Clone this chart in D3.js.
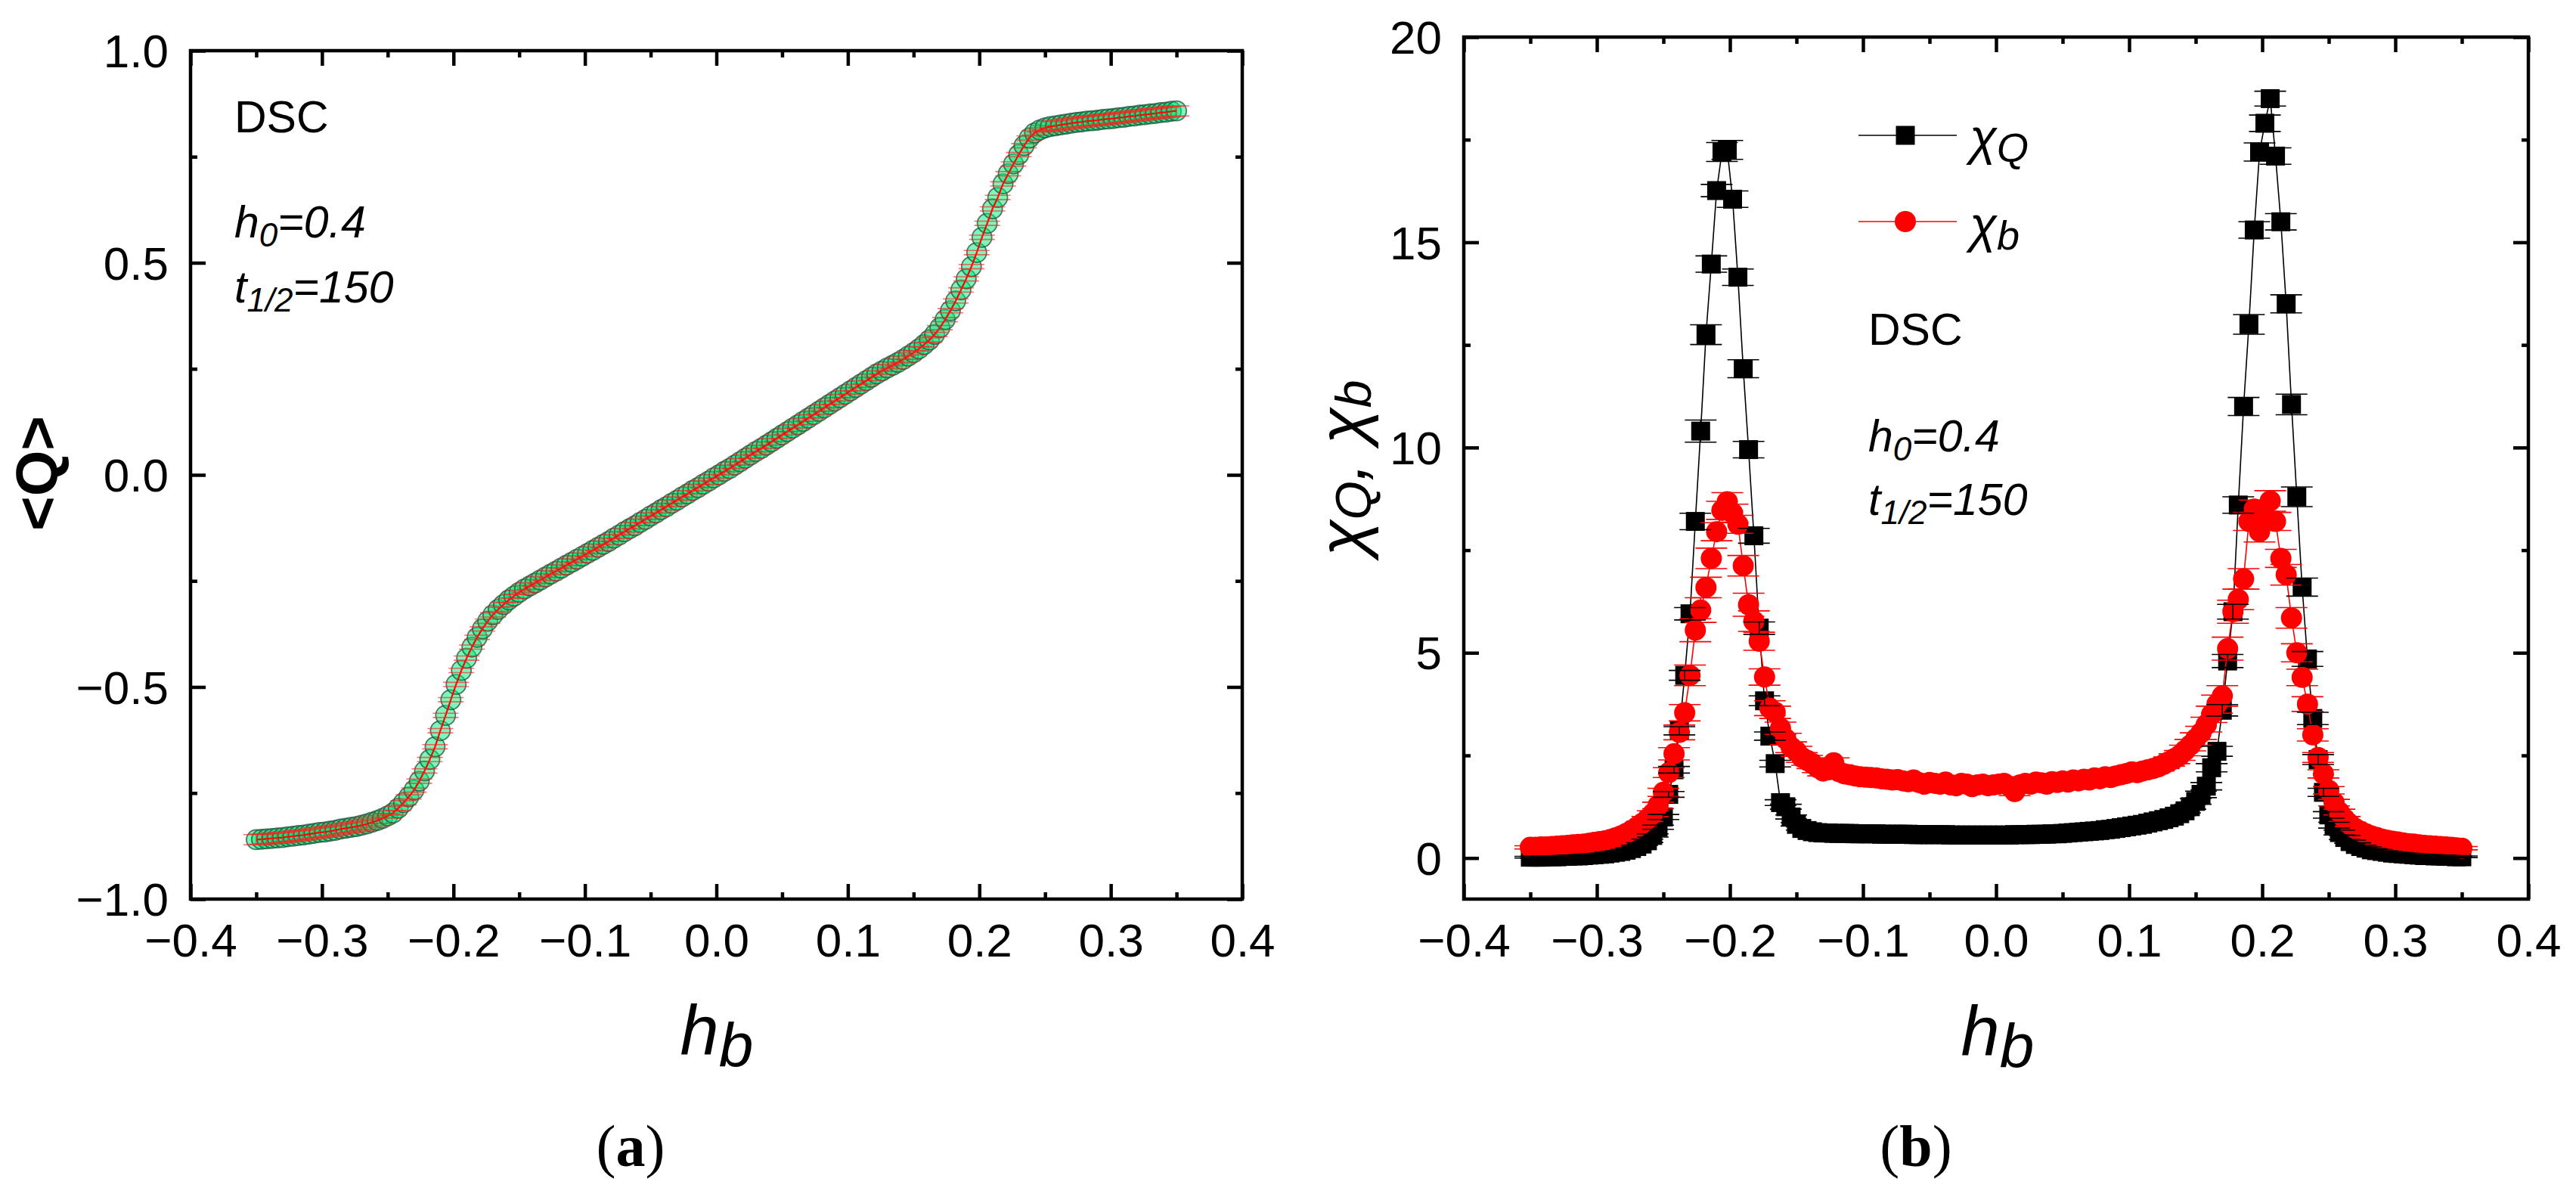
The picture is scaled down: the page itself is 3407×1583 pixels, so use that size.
<!DOCTYPE html>
<html><head><meta charset="utf-8">
<script src="https://cdn.jsdelivr.net/npm/d3@7"></script>
<style>body{margin:0;background:#fff}svg{display:block}</style>
</head><body><svg id="chart" width="3407" height="1583"></svg>
<script>
const hb = [
-0.350,-0.346,-0.342,-0.338,-0.334,-0.330,-0.326,-0.322,-0.318,-0.314,
-0.310,-0.306,-0.302,-0.298,-0.294,-0.290,-0.286,-0.282,-0.278,-0.274,
-0.270,-0.266,-0.262,-0.258,-0.254,-0.250,-0.246,-0.242,-0.238,-0.234,
-0.230,-0.226,-0.222,-0.218,-0.214,-0.210,-0.206,-0.202,-0.198,-0.194,
-0.190,-0.186,-0.182,-0.178,-0.174,-0.170,-0.166,-0.162,-0.158,-0.154,
-0.150,-0.146,-0.142,-0.138,-0.134,-0.130,-0.126,-0.122,-0.118,-0.114,
-0.110,-0.106,-0.102,-0.098,-0.094,-0.090,-0.086,-0.082,-0.078,-0.074,
-0.070,-0.066,-0.062,-0.058,-0.054,-0.050,-0.046,-0.042,-0.038,-0.034,
-0.030,-0.026,-0.022,-0.018,-0.014,-0.010,-0.006,-0.002,0.002,0.006,
0.010,0.014,0.018,0.022,0.026,0.030,0.034,0.038,0.042,0.046,
0.050,0.054,0.058,0.062,0.066,0.070,0.074,0.078,0.082,0.086,
0.090,0.094,0.098,0.102,0.106,0.110,0.114,0.118,0.122,0.126,
0.130,0.134,0.138,0.142,0.146,0.150,0.154,0.158,0.162,0.166,
0.170,0.174,0.178,0.182,0.186,0.190,0.194,0.198,0.202,0.206,
0.210,0.214,0.218,0.222,0.226,0.230,0.234,0.238,0.242,0.246,
0.250,0.254,0.258,0.262,0.266,0.270,0.274,0.278,0.282,0.286,
0.290,0.294,0.298,0.302,0.306,0.310,0.314,0.318,0.322,0.326,
0.330,0.334,0.338,0.342,0.346,0.350];

// panel (a): <Q>
const qMean = [
-0.860,-0.859,-0.858,-0.857,-0.856,-0.855,-0.853,-0.852,-0.850,-0.849,
-0.847,-0.845,-0.843,-0.842,-0.840,-0.838,-0.835,-0.833,-0.831,-0.829,
-0.826,-0.823,-0.819,-0.815,-0.810,-0.804,-0.797,-0.786,-0.773,-0.759,
-0.743,-0.722,-0.698,-0.671,-0.641,-0.603,-0.567,-0.530,-0.494,-0.461,
-0.432,-0.406,-0.383,-0.363,-0.345,-0.330,-0.317,-0.306,-0.295,-0.286,
-0.277,-0.269,-0.262,-0.255,-0.248,-0.241,-0.234,-0.227,-0.220,-0.213,
-0.206,-0.199,-0.192,-0.185,-0.178,-0.171,-0.164,-0.157,-0.149,-0.142,
-0.134,-0.127,-0.120,-0.112,-0.105,-0.097,-0.090,-0.082,-0.075,-0.067,
-0.060,-0.052,-0.045,-0.037,-0.030,-0.022,-0.015,-0.007,0.000,0.008,
0.015,0.023,0.031,0.039,0.047,0.055,0.062,0.070,0.078,0.086,
0.094,0.102,0.110,0.118,0.126,0.134,0.142,0.150,0.158,0.166,
0.174,0.182,0.190,0.198,0.206,0.214,0.222,0.230,0.238,0.245,
0.252,0.258,0.265,0.272,0.280,0.288,0.297,0.307,0.318,0.331,
0.347,0.366,0.387,0.410,0.436,0.462,0.491,0.524,0.560,0.593,
0.627,0.654,0.686,0.710,0.733,0.755,0.776,0.794,0.806,0.813,
0.818,0.821,0.823,0.825,0.827,0.829,0.831,0.832,0.834,0.835,
0.836,0.838,0.839,0.840,0.842,0.843,0.845,0.846,0.848,0.849,
0.851,0.852,0.854,0.855,0.857,0.858];

const qErr = [
0.012,0.012,0.012,0.012,0.012,0.012,0.012,0.012,0.012,0.012,
0.012,0.012,0.012,0.012,0.012,0.012,0.012,0.012,0.012,0.012,
0.012,0.012,0.012,0.012,0.012,0.005,0.005,0.005,0.005,0.005,
0.005,0.005,0.005,0.005,0.005,0.005,0.005,0.005,0.005,0.005,
0.005,0.005,0.005,0.005,0.005,0.005,0.005,0.005,0.005,0.005,
0.005,0.008,0.008,0.008,0.008,0.008,0.008,0.008,0.008,0.008,
0.008,0.008,0.008,0.008,0.008,0.008,0.008,0.008,0.008,0.008,
0.008,0.008,0.008,0.008,0.008,0.008,0.008,0.008,0.008,0.008,
0.008,0.008,0.008,0.008,0.008,0.008,0.008,0.008,0.008,0.008,
0.008,0.008,0.008,0.008,0.008,0.008,0.008,0.008,0.008,0.008,
0.008,0.008,0.008,0.008,0.008,0.008,0.008,0.008,0.008,0.008,
0.008,0.008,0.008,0.008,0.008,0.008,0.008,0.008,0.008,0.008,
0.008,0.008,0.008,0.008,0.008,0.005,0.005,0.005,0.005,0.005,
0.005,0.005,0.005,0.005,0.005,0.005,0.005,0.005,0.005,0.005,
0.005,0.005,0.005,0.005,0.005,0.005,0.005,0.005,0.005,0.005,
0.005,0.012,0.012,0.012,0.012,0.012,0.012,0.012,0.012,0.012,
0.012,0.012,0.012,0.012,0.012,0.012,0.012,0.012,0.012,0.012,
0.012,0.012,0.012,0.012,0.012,0.012];

// panel (b): chi_Q and chi_b
const chiQ = [
0.02,0.02,0.02,0.03,0.03,0.03,0.04,0.04,0.05,0.05,
0.06,0.07,0.08,0.09,0.10,0.12,0.14,0.16,0.19,0.23,
0.28,0.34,0.42,0.55,0.75,1.00,1.55,2.15,3.10,4.45,
5.95,8.20,10.40,12.75,14.47,16.26,17.20,17.25,16.05,14.15,
11.92,9.95,7.85,5.60,3.83,2.97,2.30,1.35,1.25,1.00,
0.82,0.72,0.67,0.64,0.62,0.61,0.61,0.60,0.60,0.60,
0.60,0.59,0.59,0.59,0.59,0.59,0.58,0.58,0.58,0.58,
0.58,0.58,0.57,0.57,0.57,0.57,0.57,0.57,0.57,0.56,
0.56,0.56,0.56,0.56,0.56,0.56,0.56,0.56,0.56,0.56,
0.56,0.57,0.57,0.57,0.57,0.58,0.58,0.58,0.59,0.59,
0.60,0.61,0.62,0.63,0.64,0.65,0.66,0.67,0.69,0.70,
0.72,0.74,0.76,0.78,0.80,0.82,0.85,0.88,0.91,0.94,
0.98,1.02,1.08,1.15,1.25,1.38,1.55,1.75,2.20,2.60,
3.60,4.80,6.00,8.60,11.00,13.00,15.30,17.20,17.90,18.50,
17.10,15.50,13.50,11.05,8.80,6.60,4.85,3.40,2.40,1.60,
1.05,0.80,0.62,0.50,0.40,0.33,0.28,0.24,0.20,0.18,
0.16,0.14,0.12,0.11,0.10,0.09,0.08,0.07,0.06,0.06,
0.05,0.05,0.04,0.04,0.03,0.03];

const chiQErr = [
0.02,0.02,0.02,0.02,0.02,0.02,0.02,0.02,0.02,0.02,
0.02,0.02,0.02,0.02,0.02,0.02,0.02,0.02,0.02,0.02,
0.03,0.03,0.04,0.04,0.05,0.06,0.07,0.08,0.10,0.12,
0.15,0.20,0.27,0.24,0.20,0.15,0.23,0.23,0.20,0.20,
0.22,0.20,0.18,0.15,0.12,0.10,0.08,0.07,0.06,0.05,
0.04,0.04,0.04,0.04,0.04,0.04,0.04,0.04,0.04,0.04,
0.03,0.03,0.03,0.03,0.03,0.03,0.03,0.03,0.03,0.03,
0.03,0.03,0.03,0.03,0.03,0.03,0.03,0.03,0.03,0.03,
0.03,0.03,0.03,0.03,0.03,0.03,0.03,0.03,0.03,0.03,
0.03,0.03,0.03,0.03,0.03,0.03,0.03,0.03,0.03,0.03,
0.03,0.03,0.03,0.03,0.03,0.03,0.03,0.03,0.03,0.03,
0.03,0.03,0.03,0.03,0.03,0.03,0.03,0.03,0.03,0.03,
0.04,0.04,0.05,0.05,0.06,0.07,0.08,0.09,0.10,0.12,
0.14,0.16,0.18,0.20,0.22,0.24,0.20,0.22,0.20,0.18,
0.20,0.20,0.22,0.25,0.24,0.22,0.18,0.15,0.12,0.10,
0.08,0.07,0.06,0.05,0.04,0.04,0.03,0.03,0.03,0.03,
0.02,0.02,0.02,0.02,0.02,0.02,0.02,0.02,0.02,0.02,
0.02,0.02,0.02,0.02,0.02,0.02];

const chiB = [
0.26,0.26,0.27,0.27,0.28,0.29,0.30,0.31,0.32,0.33,
0.34,0.36,0.38,0.40,0.42,0.45,0.49,0.54,0.60,0.67,
0.75,0.84,0.95,1.08,1.28,1.60,2.08,2.54,3.06,3.54,
4.45,5.55,6.04,6.59,7.30,7.95,8.47,8.68,8.40,8.13,
7.12,6.17,5.77,5.28,4.41,3.65,3.55,3.16,2.90,2.70,
2.60,2.45,2.38,2.30,2.20,2.12,2.15,2.32,2.10,2.05,
2.03,2.00,1.98,1.97,1.96,1.95,1.93,1.92,1.90,1.91,
1.88,1.86,1.90,1.84,1.80,1.84,1.82,1.80,1.85,1.78,
1.76,1.82,1.80,1.74,1.78,1.80,1.76,1.78,1.80,1.82,
1.75,1.62,1.78,1.82,1.80,1.85,1.83,1.80,1.86,1.84,
1.88,1.85,1.90,1.88,1.92,1.90,1.95,1.93,1.98,1.96,
2.00,2.03,2.06,2.10,2.08,2.12,2.15,2.18,2.22,2.28,
2.35,2.42,2.50,2.62,2.75,2.90,3.05,3.25,3.50,3.75,
3.95,5.10,6.00,6.30,6.80,8.20,8.50,7.95,8.30,8.70,
8.20,7.30,6.90,5.85,5.00,4.40,3.75,3.00,2.45,2.05,
1.65,1.35,1.12,0.95,0.82,0.72,0.65,0.59,0.54,0.50,
0.46,0.43,0.41,0.39,0.37,0.35,0.34,0.32,0.31,0.30,
0.29,0.28,0.27,0.26,0.25,0.24];

const chiBErr = [
0.04,0.04,0.04,0.04,0.04,0.04,0.04,0.04,0.04,0.04,
0.04,0.04,0.04,0.04,0.04,0.04,0.04,0.04,0.04,0.04,
0.05,0.05,0.06,0.07,0.08,0.10,0.12,0.15,0.18,0.20,
0.25,0.28,0.30,0.25,0.25,0.22,0.22,0.22,0.22,0.22,
0.25,0.28,0.25,0.22,0.20,0.18,0.15,0.15,0.14,0.13,
0.12,0.12,0.12,0.12,0.12,0.12,0.12,0.12,0.12,0.12,
0.10,0.10,0.10,0.10,0.10,0.10,0.10,0.10,0.10,0.10,
0.10,0.10,0.10,0.10,0.10,0.10,0.10,0.10,0.10,0.10,
0.10,0.10,0.10,0.10,0.10,0.10,0.10,0.10,0.10,0.10,
0.10,0.10,0.10,0.10,0.10,0.10,0.10,0.10,0.10,0.10,
0.10,0.10,0.10,0.10,0.10,0.10,0.10,0.10,0.10,0.10,
0.10,0.10,0.10,0.10,0.10,0.10,0.10,0.10,0.10,0.10,
0.11,0.12,0.12,0.13,0.14,0.15,0.16,0.18,0.20,0.22,
0.25,0.28,0.28,0.25,0.25,0.22,0.22,0.25,0.28,0.25,
0.22,0.22,0.25,0.25,0.22,0.20,0.18,0.15,0.12,0.10,
0.09,0.08,0.07,0.06,0.05,0.05,0.05,0.05,0.04,0.04,
0.04,0.04,0.04,0.04,0.04,0.04,0.04,0.04,0.04,0.04,
0.04,0.04,0.04,0.04,0.04,0.04];

const xMajor = [-0.4,-0.3,-0.2,-0.1,0.0,0.1,0.2,0.3,0.4];
const xMinor = [-0.35,-0.25,-0.15,-0.05,0.05,0.15,0.25,0.35];
const yMajorA = [-1.0,-0.5,0.0,0.5,1.0];
const yMinorA = [-0.75,-0.25,0.25,0.75];
const yMajorB = [0,5,10,15,20];
const yMinorB = [2.5,7.5,12.5,17.5];
const seriesNames = ["Q", "b"];

const svg = d3.select("#chart");
svg.append("rect").attr("width",3407).attr("height",1583).attr("fill","#fff");
const SANS = "'Liberation Sans', Arial, sans-serif";
const SERIF = "'Liberation Serif', 'Times New Roman', serif";

function frame(x, y, yMaj, yMin, yFmt) {
  const [x0,x1] = x.range(), [y0,y1] = y.range();
  const g = svg.append("g");
  const tw = 4.5, maj = 20, mnr = 9;
  const ab = g.append("g").attr("transform",`translate(0,${y0})`)
    .call(d3.axisBottom(x).tickValues(xMajor).tickSize(-maj).tickPadding(32)
      .tickFormat(d3.format(".1f")));
  ab.append("g").call(d3.axisBottom(x).tickValues(xMinor).tickSize(-mnr).tickFormat(""));
  const at = g.append("g").attr("transform",`translate(0,${y1})`)
    .call(d3.axisTop(x).tickValues(xMajor).tickSize(-maj).tickFormat(""));
  at.append("g").call(d3.axisTop(x).tickValues(xMinor).tickSize(-mnr).tickFormat(""));
  const al = g.append("g").attr("transform",`translate(${x0},0)`)
    .call(d3.axisLeft(y).tickValues(yMaj).tickSize(-maj).tickPadding(29).tickFormat(yFmt));
  al.append("g").call(d3.axisLeft(y).tickValues(yMin).tickSize(-mnr).tickFormat(""));
  const ar = g.append("g").attr("transform",`translate(${x1},0)`)
    .call(d3.axisRight(y).tickValues(yMaj).tickSize(-maj).tickFormat(""));
  ar.append("g").call(d3.axisRight(y).tickValues(yMin).tickSize(-mnr).tickFormat(""));
  g.selectAll(".domain").remove();
  g.selectAll(".tick line").attr("stroke","#000").attr("stroke-width",tw);
  g.selectAll("text").attr("font-family",SANS).attr("font-size",62).attr("fill","#000");
  ab.selectAll(".tick text").attr("dy","0.71em");
  al.selectAll(".tick text").attr("dy","0.35em");
  g.append("rect").attr("x",x0).attr("y",y1).attr("width",x1-x0).attr("height",y0-y1)
    .attr("fill","none").attr("stroke","#000").attr("stroke-width",tw);
}

function errorBars(g, x, y, vals, errs, color, capW, sw, op) {
  const eb = g.append("g").attr("stroke",color).attr("stroke-width",sw).attr("stroke-opacity",op);
  hb.forEach((h,i)=>{
    if (vals[i]===undefined || errs[i]===undefined) return;
    const cx = x(h), ya = y(vals[i]-errs[i]), yb = y(vals[i]+errs[i]);
    eb.append("line").attr("x1",cx).attr("x2",cx).attr("y1",ya).attr("y2",yb);
    eb.append("line").attr("x1",cx-capW/2).attr("x2",cx+capW/2).attr("y1",ya).attr("y2",ya);
    eb.append("line").attr("x1",cx-capW/2).attr("x2",cx+capW/2).attr("y1",yb).attr("y2",yb);
  });
}

function richText(parent, x, y, parts, anchor) {
  const t = parent.append("text").attr("x",x).attr("y",y)
    .attr("font-family",SANS).attr("text-anchor",anchor||"start").attr("fill","#000");
  let shift = 0;
  parts.forEach(p=>{
    const s = t.append("tspan").text(p.t).attr("font-size",p.size);
    if (p.style) s.attr("font-style",p.style);
    if (p.weight) s.attr("font-weight",p.weight);
    const want = p.dy||0;
    s.attr("dy", want - shift); shift = want;
  });
  return t;
}

/* ---------- Panel (a) ---------- */
const xA = d3.scaleLinear().domain([-0.4,0.4]).range([252,1643]);
const yA = d3.scaleLinear().domain([-1,1]).range([1189,67]);
frame(xA, yA, yMajorA, yMinorA, d3.format(".1f"));
const gA = svg.append("g");
gA.append("g").selectAll("circle").data(hb).join("circle")
  .attr("cx",d=>xA(d)).attr("cy",(d,i)=>yA(qMean[i])).attr("r",13)
  .attr("fill","#00ea78").attr("fill-opacity",0.5)
  .attr("stroke","#1f4d38").attr("stroke-opacity",0.75).attr("stroke-width",1.8);
gA.append("path").datum(hb).attr("fill","none").attr("stroke","#ff0000").attr("stroke-width",2.2)
  .attr("d", d3.line().x(d=>xA(d)).y((d,i)=>yA(qMean[i])));
errorBars(gA, xA, yA, qMean, qErr, "#ff2020", 34, 1.6, 0.65);

richText(svg, 310, 175, [{t:"DSC", size:59}]);
richText(svg, 310, 314, [{t:"h",size:59,style:"italic"},{t:"0",size:44,style:"italic",dy:12},{t:"=0.4",size:59,style:"italic",dy:0}]);
richText(svg, 310, 400, [{t:"t",size:59,style:"italic"},{t:"1/2",size:44,style:"italic",dy:12},{t:"=150",size:59,style:"italic",dy:0}]);
richText(svg, 948, 1394, [{t:"h",size:92,style:"italic"},{t:"b",size:82,style:"italic",dy:16}], "middle");
svg.append("text").attr("transform","translate(76,626) rotate(-90)")
  .attr("text-anchor","middle").attr("font-family",SANS).attr("font-weight","bold")
  .attr("font-size",78).text("<Q>");
richText(svg, 834, 1542, [{t:"(",size:78},{t:"a",size:78,weight:"bold"},{t:")",size:78}], "middle")
  .attr("font-family",SERIF);

/* ---------- Panel (b) ---------- */
const xB = d3.scaleLinear().domain([-0.4,0.4]).range([1936,3344]);
const yB = d3.scaleLinear().domain([-1,20]).range([1189,49]);
frame(xB, yB, yMajorB, yMinorB, d3.format("d"));
const gB = svg.append("g");
const lineQ = d3.line().x(d=>xB(d)).y((d,i)=>yB(chiQ[i]));
const lineB = d3.line().x(d=>xB(d)).y((d,i)=>yB(chiB[i]));
gB.append("path").datum(hb).attr("fill","none").attr("stroke","#000").attr("stroke-width",1.6).attr("d",lineQ);
gB.append("g").selectAll("rect").data(hb).join("rect")
  .attr("x",d=>xB(d)-12.5).attr("y",(d,i)=>yB(chiQ[i])-12.5).attr("width",25).attr("height",25)
  .attr("fill","#000");
gB.append("path").datum(hb).attr("fill","none").attr("stroke","#ff0000").attr("stroke-width",1.6).attr("d",lineB);
gB.append("g").selectAll("circle").data(hb).join("circle")
  .attr("cx",d=>xB(d)).attr("cy",(d,i)=>yB(chiB[i])).attr("r",14).attr("fill","#ff0000");
errorBars(gB, xB, yB, chiB, chiBErr, "#ff0000", 42, 1.6, 1);
errorBars(gB, xB, yB, chiQ, chiQErr, "#000", 42, 1.6, 1);

// legend
const leg = svg.append("g");
leg.append("line").attr("x1",2458).attr("x2",2588).attr("y1",179).attr("y2",179).attr("stroke","#000").attr("stroke-width",1.6);
leg.append("rect").attr("x",2520-12.5).attr("y",179-12.5).attr("width",25).attr("height",25).attr("fill","#000");
leg.append("line").attr("x1",2458).attr("x2",2588).attr("y1",293).attr("y2",293).attr("stroke","#ff0000").attr("stroke-width",1.6);
leg.append("circle").attr("cx",2520).attr("cy",293).attr("r",14).attr("fill","#ff0000");
richText(leg, 2605, 204, [{t:"χ",size:66,style:"italic"},{t:seriesNames[0],size:54,style:"italic",dy:10}]);
richText(leg, 2605, 320, [{t:"χ",size:66,style:"italic"},{t:seriesNames[1],size:54,style:"italic",dy:10}]);

richText(svg, 2471, 456, [{t:"DSC", size:59}]);
richText(svg, 2471, 597, [{t:"h",size:59,style:"italic"},{t:"0",size:44,style:"italic",dy:12},{t:"=0.4",size:59,style:"italic",dy:0}]);
richText(svg, 2471, 681, [{t:"t",size:59,style:"italic"},{t:"1/2",size:44,style:"italic",dy:12},{t:"=150",size:59,style:"italic",dy:0}]);
richText(svg, 2642, 1395, [{t:"h",size:92,style:"italic"},{t:"b",size:82,style:"italic",dy:16}], "middle");
const yl = svg.append("g").attr("transform","translate(1805,619) rotate(-90)");
richText(yl, 0, 0, [{t:"χ",size:88,style:"italic"},{t:"Q",size:66,style:"italic",dy:8},
  {t:", ",size:88,style:"italic",dy:0},{t:"χ",size:88,style:"italic",dy:0},{t:"b",size:66,style:"italic",dy:8}], "middle");
richText(svg, 2534, 1542, [{t:"(",size:78},{t:"b",size:78,weight:"bold"},{t:")",size:78}], "middle")
  .attr("font-family",SERIF);
</script></body></html>
